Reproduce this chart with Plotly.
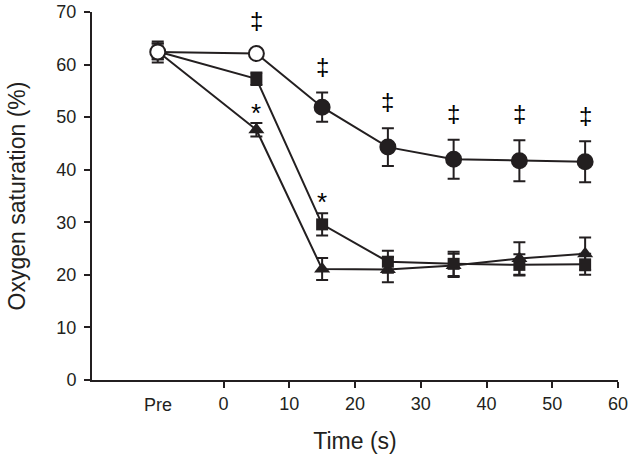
import plotly.graph_objects as go

# Data
time_labels = ["Pre", "5", "15", "25", "35", "45", "55"]
time_pos = [-10, 5, 15, 25, 35, 45, 55]  # "Pre" plotted at -10

circle_vals = [62.4, 62.1, 51.9, 44.3, 42.0, 41.7, 41.5]
circle_err = [2.0, 0.8, 2.8, 3.6, 3.7, 3.9, 3.9]
circle_open = [True, True, False, False, False, False, False]

square_vals = [62.5, 57.3, 29.6, 22.5, 22.1, 21.9, 22.0]
square_err = [1.5, 1.2, 2.1, 2.1, 2.3, 2.0, 2.0]

triangle_vals = [62.5, 47.6, 21.1, 21.0, 21.8, 23.1, 24.0]
triangle_err = [1.5, 1.3, 2.1, 2.4, 2.2, 3.1, 3.1]

dagger_x = [5, 15, 25, 35, 45, 55]
dagger_y = [68.3, 59.7, 52.9, 50.7, 50.7, 50.4]
star_x = [5, 15]
star_y = [50.8, 33.9]

x_ticks = [0, 10, 20, 30, 40, 50, 60]
y_ticks = [0, 10, 20, 30, 40, 50, 60, 70]

INK = "#231f20"
FONT = "Liberation Sans, Arial, sans-serif"

fig = go.Figure()

def err(vals):
    return dict(type="data", array=vals, visible=True, color=INK, thickness=2, width=6)

fig.add_trace(go.Scatter(
    x=time_pos, y=triangle_vals, mode="lines+markers",
    line=dict(color=INK, width=2),
    marker=dict(symbol="triangle-up", size=14, color=INK),
    error_y=err(triangle_err), showlegend=False))

fig.add_trace(go.Scatter(
    x=time_pos, y=square_vals, mode="lines+markers",
    line=dict(color=INK, width=2),
    marker=dict(symbol="square", size=12, color=INK),
    error_y=err(square_err), showlegend=False))

fig.add_trace(go.Scatter(
    x=time_pos, y=circle_vals, mode="lines+markers",
    line=dict(color=INK, width=2),
    marker=dict(symbol="circle", size=15,
                color=["white" if o else INK for o in circle_open],
                line=dict(color=INK, width=2)),
    error_y=err(circle_err), showlegend=False))

for xx, yy in zip(dagger_x, dagger_y):
    fig.add_annotation(x=xx, y=yy, text="‡", showarrow=False,
                       font=dict(family=FONT, size=24, color="black"))
for xx, yy in zip(star_x, star_y):
    fig.add_annotation(x=xx, y=yy, text="*", showarrow=False,
                       font=dict(family=FONT, size=26, color="black"))

# "Pre" label (no tick mark)
fig.add_annotation(x=time_pos[0], y=0, yref="paper", text=time_labels[0], showarrow=False,
                   yanchor="middle", yshift=-25, font=dict(family=FONT, size=18, color=INK))

fig.update_layout(
    width=629, height=466,
    margin=dict(l=92, r=11, t=12, b=86),
    plot_bgcolor="white", paper_bgcolor="white",
    font=dict(family=FONT, size=18, color=INK),
    xaxis=dict(range=[-20, 60], tickvals=x_ticks, ticktext=[str(t) for t in x_ticks],
               showgrid=False, zeroline=False, showline=True, linecolor=INK, linewidth=2,
               ticks="outside", ticklen=6, tickwidth=2, tickcolor=INK, automargin=False,
               title=dict(text="Time (s)", font=dict(size=23), standoff=20)),
    yaxis=dict(range=[0, 70], tickvals=y_ticks,
               showgrid=False, zeroline=False, showline=True, linecolor=INK, linewidth=2,
               ticks="outside", ticklen=6, tickwidth=2, tickcolor=INK, automargin=False,
               ticklabelstandoff=4,
               title=dict(text="Oxygen saturation (%)", font=dict(size=23), standoff=24)),
)

fig.write_html("out.html", config={"displayModeBar": False},
               post_script="document.body.style.margin='0';document.body.style.padding='0';")
